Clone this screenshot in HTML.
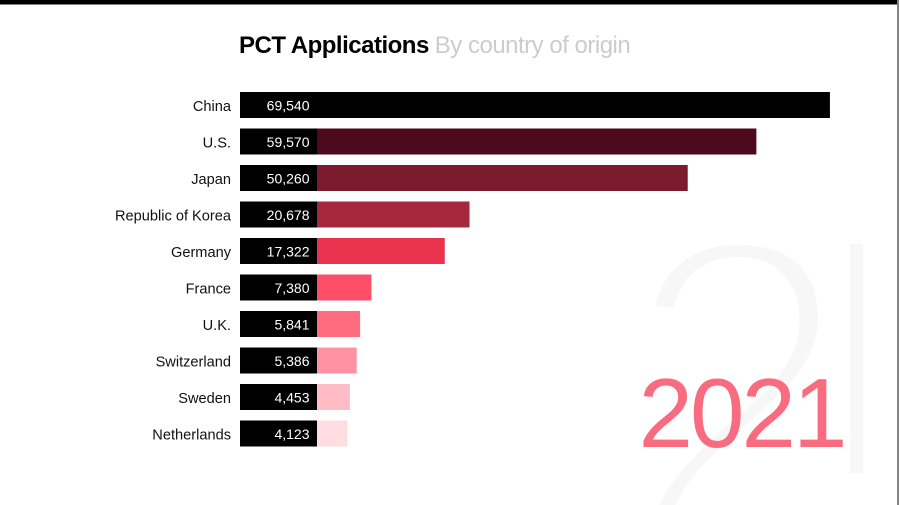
<!DOCTYPE html>
<html>
<head>
<meta charset="utf-8">
<style>
html,body{margin:0;padding:0;background:#fff;overflow:hidden;width:900px;height:505px;}
svg{display:block;font-family:"Liberation Sans",sans-serif;filter:blur(0.35px);}
</style>
</head>
<body>
<svg id="chart" width="900" height="505" viewBox="0 0 900 505">
  <defs>
    <clipPath id="wm"><rect x="640" y="230" width="205" height="275"/></clipPath>
  </defs>
  <rect x="0" y="0" width="900" height="505" fill="#ffffff"/>
  <g clip-path="url(#wm)">
    <text transform="translate(622,545) scale(1,1.07)" font-size="415" fill="#f7f7f7" stroke="#ffffff" stroke-width="19" stroke-linejoin="round">2</text>
  </g>
  <rect x="850" y="244" width="13" height="229" fill="#f7f7f7"/>
  <rect x="0" y="0" width="897" height="4.5" fill="#000000"/>
  <rect x="897.4" y="0" width="1.2" height="505" fill="#333333"/>
  <text x="239" y="53" font-size="24" letter-spacing="-0.5"><tspan font-weight="700" fill="#000000">PCT Applications</tspan><tspan fill="#cccccc" dx="6">By country of origin</tspan></text>
  <g id="bars"></g>
  <text x="638.5" y="447" font-size="98" letter-spacing="-3" fill="#f96b7f">2021</text>
</svg>
<script>
const categories = ["China","U.S.","Japan","Republic of Korea","Germany","France","U.K.","Switzerland","Sweden","Netherlands"];
const seriesValues = [69540,59570,50260,20678,17322,7380,5841,5386,4453,4123];
const valueLabels = ["69,540","59,570","50,260","20,678","17,322","7,380","5,841","5,386","4,453","4,123"];
const barColors = ["#000000","#4d0a1e","#7c1a2e","#a5283c","#e8324e","#ff4f68","#ff6c80","#ff93a3","#ffbcc5","#ffdde1"];

const NS = "http://www.w3.org/2000/svg";
const chartLeft = 240;
const labelBoxWidth = 77;
const barHeight = 26;
const firstBarTop = 92;
const bandStep = 36.5;
const pixelsPerUnit = 0.007376;

function xScale(v){ return chartLeft + labelBoxWidth + v * pixelsPerUnit; }
function yScale(i){ return firstBarTop + i * bandStep; }

const barsGroup = document.getElementById("bars");
categories.forEach(function(name, i){
  const y = yScale(i);
  const slug = name.toLowerCase().replace(/[^a-z]+/g, "-").replace(/-$/, "");

  const bar = document.createElementNS(NS, "rect");
  bar.setAttribute("x", chartLeft + labelBoxWidth);
  bar.setAttribute("y", y);
  bar.setAttribute("width", xScale(seriesValues[i]) - chartLeft - labelBoxWidth);
  bar.setAttribute("height", barHeight);
  bar.setAttribute("fill", barColors[i]);
  
  
  barsGroup.appendChild(bar);

  const box = document.createElementNS(NS, "rect");
  box.setAttribute("x", chartLeft);
  box.setAttribute("y", y);
  box.setAttribute("width", labelBoxWidth);
  box.setAttribute("height", barHeight);
  box.setAttribute("fill", "#000000");
  
  
  barsGroup.appendChild(box);

  const value = document.createElementNS(NS, "text");
  value.setAttribute("x", 309.5);
  value.setAttribute("y", y + 18.5);
  value.setAttribute("text-anchor", "end");
  value.setAttribute("font-size", "14");
  value.setAttribute("fill", "#ffffff");
  
  
  value.textContent = valueLabels[i];
  barsGroup.appendChild(value);

  const label = document.createElementNS(NS, "text");
  label.setAttribute("x", 231);
  label.setAttribute("y", y + 19);
  label.setAttribute("text-anchor", "end");
  label.setAttribute("font-size", "14.6");
  label.setAttribute("fill", "#111111");
  
  
  label.textContent = name;
  barsGroup.appendChild(label);
});
</script>
</body>
</html>
